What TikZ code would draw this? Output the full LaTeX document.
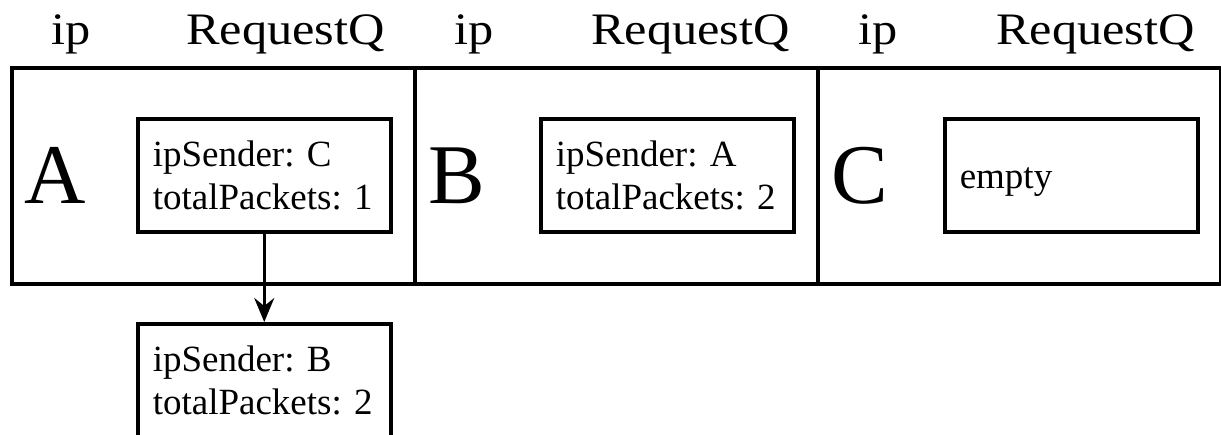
\documentclass[tikz,border=0pt]{standalone}
\usepackage{fontspec}
\setmainfont{Liberation Serif}
\newfontfamily\widefont[FakeStretch=1.12]{Liberation Serif}
\usetikzlibrary{arrows.meta}
\begin{document}
\begin{tikzpicture}[x=1pt,y=-1pt,
  cell/.style={draw, line width=3.5pt, minimum width=403pt, minimum height=216pt, anchor=north west, inner sep=0pt},
  queue/.style={draw, line width=3.5pt, minimum width=253pt, minimum height=113pt, anchor=north west, text width=223pt, inner xsep=15pt, inner ysep=0pt, align=left, font=\fontsize{37}{43}\selectfont},
  head/.style={anchor=base west, inner sep=0pt, font=\widefont\fontsize{45}{50}\selectfont},
  big/.style={anchor=base west, inner sep=0pt, font=\fontsize{85}{90}\selectfont},
  link/.style={line width=3pt, -{Stealth[length=24pt,width=20pt,inset=8pt]}}]
\useasboundingbox (0,0) rectangle (1221,434);
% cells
\node[cell] (cA) at (10,66) {};
\node[cell] (cB) at (413,66) {};
\node[cell] (cC) at (816,66) {};
% headers
\node[head] (ipA) at (51,44) {ip};
\node[head] (rqA) at (186,44) {RequestQ};
\node[head] (ipB) at (454,44) {ip};
\node[head] (rqB) at (591,44) {RequestQ};
\node[head] (ipC) at (858,44) {ip};
\node[head] (rqC) at (996,44) {RequestQ};
% big letters
\node[big] (lA) at (24,203) {A};
\node[big] (lB) at (428,203) {B};
\node[big] (lC) at (831,203) {C};
% queues
\node[queue] (qA) at (136,117) {ipSender:~C\\totalPackets:~1};
\node[queue] (qB) at (539,117) {ipSender:~A\\totalPackets:~2};
\node[queue, text height=34pt, text depth=8pt] (qC) at (943,117) {empty};
\node[queue, minimum height=0pt, inner ysep=22pt, text depth=60pt] (qD) at (136,322) {ipSender:~B\\totalPackets:~2};
% link
\draw[link] (qA.south) -- (qD.north);
\end{tikzpicture}
\end{document}
